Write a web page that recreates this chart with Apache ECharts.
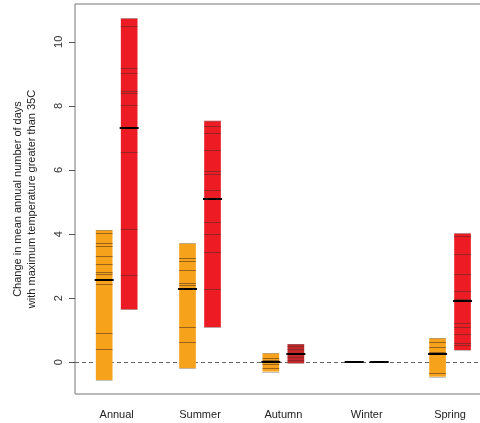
<!DOCTYPE html>
<html>
<head>
<meta charset="utf-8">
<script src="https://cdn.jsdelivr.net/npm/echarts@6/dist/echarts.min.js"></script>
<style>
html,body{margin:0;padding:0;background:#fff;overflow:hidden;width:480px;height:423px;}
#chart{width:492px;height:423px;}
</style>
</head>
<body>
<div id="chart"></div>
<script>
const categories = ['Annual', 'Summer', 'Autumn', 'Winter', 'Spring'];
const yTicks = [0, 2, 4, 6, 8, 10];
const yTitle = 'Change in mean annual number of days\nwith maximum temperature greater than 35C';

const orangeLow = [-0.55, -0.19, -0.29, 0, -0.45];
const orangeHigh = [4.13, 3.71, 0.28, 0, 0.75];
const orangeMedian = [2.57, 2.28, 0.0, 0, 0.26];
const orangeMembers = [
  [4.02, 3.71, 3.64, 3.32, 3.06, 2.83, 2.75, 2.44, 0.90, 0.42],
  [3.24, 3.16, 2.88, 2.48, 2.41, 1.11, 0.62],
  [0.14, 0.07, -0.06, -0.17],
  [],
  [0.64, 0.49, 0.33, -0.32]
];

const redLow = [1.65, 1.09, -0.03, 0, 0.38];
const redHigh = [10.73, 7.54, 0.57, 0, 4.02];
const redMedian = [7.30, 5.08, 0.26, 0, 1.92];
const redMembers = [
  [10.49, 9.19, 9.02, 8.46, 8.41, 8.03, 6.57, 4.17, 2.72],
  [7.37, 7.17, 6.62, 5.97, 5.87, 5.37, 4.37, 3.99, 3.43, 2.28],
  [0.51, 0.41, 0.16, 0.07],
  [],
  [3.95, 3.38, 2.74, 2.23, 1.99, 1.22, 1.11, 0.88, 0.59, 0.54]
];

const FONT = "'Liberation Sans', Arial, Helvetica, sans-serif";

function makeRender(members, offset, fills, memberColor) {
  return function (params, api) {
    const i = api.value(0);
    const band = api.size([1, 0])[0];
    const cx = api.coord([i, 0])[0] + offset * band;
    const w = 0.2 * band;
    const mw = 0.228 * band;
    const yLow = api.coord([i, api.value(1)])[1];
    const yHigh = api.coord([i, api.value(2)])[1];
    const yMed = api.coord([i, api.value(3)])[1];
    const x0 = cx - w / 2, x1 = cx + w / 2;
    const children = [];
    if (yLow - yHigh > 0.5) {
      children.push({
        type: 'rect',
        shape: { x: x0, y: yHigh, width: w, height: yLow - yHigh },
        style: { fill: fills[params.dataIndex] }
      });
      [yHigh, yLow].forEach(function (y) {
        const yy = Math.round(y) + 0.5;
        children.push({
          type: 'line',
          shape: { x1: x0, y1: yy, x2: x1, y2: yy },
          style: { stroke: 'rgba(120,120,120,0.45)', lineWidth: 1 }
        });
      });
    }
    (members[params.dataIndex] || []).forEach(function (v) {
      const yy = Math.round(api.coord([i, v])[1]) + 0.5;
      children.push({
        type: 'line',
        shape: { x1: x0, y1: yy, x2: x1, y2: yy },
        style: { stroke: memberColor, lineWidth: 1 }
      });
    });
    const ym = Math.round(yMed);
    children.push({
      type: 'line',
      shape: { x1: cx - mw / 2, y1: ym, x2: cx + mw / 2, y2: ym },
      style: { stroke: '#000', lineWidth: 2 }
    });
    return { type: 'group', children: children };
  };
}

const orangeData = categories.map(function (c, i) { return [i, orangeLow[i], orangeHigh[i], orangeMedian[i]]; });
const redData = categories.map(function (c, i) { return [i, redLow[i], redHigh[i], redMedian[i]]; });

const orangeFills = ['#F7A21B', '#F7A21B', '#F7A21B', '#F7A21B', '#F7A21B'];
const redFills = ['#ED1C24', '#ED1C24', '#C8262B', '#ED1C24', '#ED1C24'];

const chart = echarts.init(document.getElementById('chart'), null, { renderer: 'canvas', width: 492, height: 423 });
chart.setOption({
  animation: false,
  backgroundColor: '#fff',
  textStyle: { fontFamily: FONT },
  grid: {
    left: 75, top: 4, width: 416.7, height: 390,
    outerBoundsMode: 'none',
    show: true, borderColor: '#777', borderWidth: 1, backgroundColor: 'transparent'
  },
  xAxis: {
    type: 'category',
    data: categories,
    boundaryGap: true,
    axisLine: { show: false },
    axisTick: { show: false },
    axisLabel: { color: '#222', fontSize: 11, fontFamily: FONT, margin: 15 },
    splitLine: { show: false }
  },
  yAxis: {
    type: 'value',
    min: -0.99, max: 11.18,
    axisLine: { show: false },
    axisTick: { show: true, length: 6, lineStyle: { color: '#555' }, customValues: yTicks },
    axisLabel: { color: '#333', fontSize: 11, fontFamily: FONT, rotate: 90, margin: 11, customValues: yTicks },
    splitLine: { show: false }
  },
  graphic: [{
    type: 'text',
    x: 25, y: 199,
    rotation: Math.PI / 2,
    style: {
      text: yTitle,
      fontSize: 11, fontFamily: FONT, fill: '#222',
      align: 'center', verticalAlign: 'middle', lineHeight: 14
    }
  }],
  series: [
    {
      type: 'custom',
      name: 'orange',
      data: orangeData,
      encode: { x: 0, y: [1, 2, 3] },
      renderItem: makeRender(orangeMembers, -0.15, orangeFills, 'rgba(90,55,30,0.6)'),
      z: 3,
      markLine: {
        silent: true, symbol: 'none', label: { show: false },
        lineStyle: { type: [4, 3], color: '#666', width: 1 },
        data: [{ yAxis: 0 }],
        z: 2
      }
    },
    {
      type: 'custom',
      name: 'red',
      data: redData,
      encode: { x: 0, y: [1, 2, 3] },
      renderItem: makeRender(redMembers, 0.15, redFills, 'rgba(90,45,35,0.6)'),
      z: 3
    }
  ]
});
</script>
</body>
</html>
